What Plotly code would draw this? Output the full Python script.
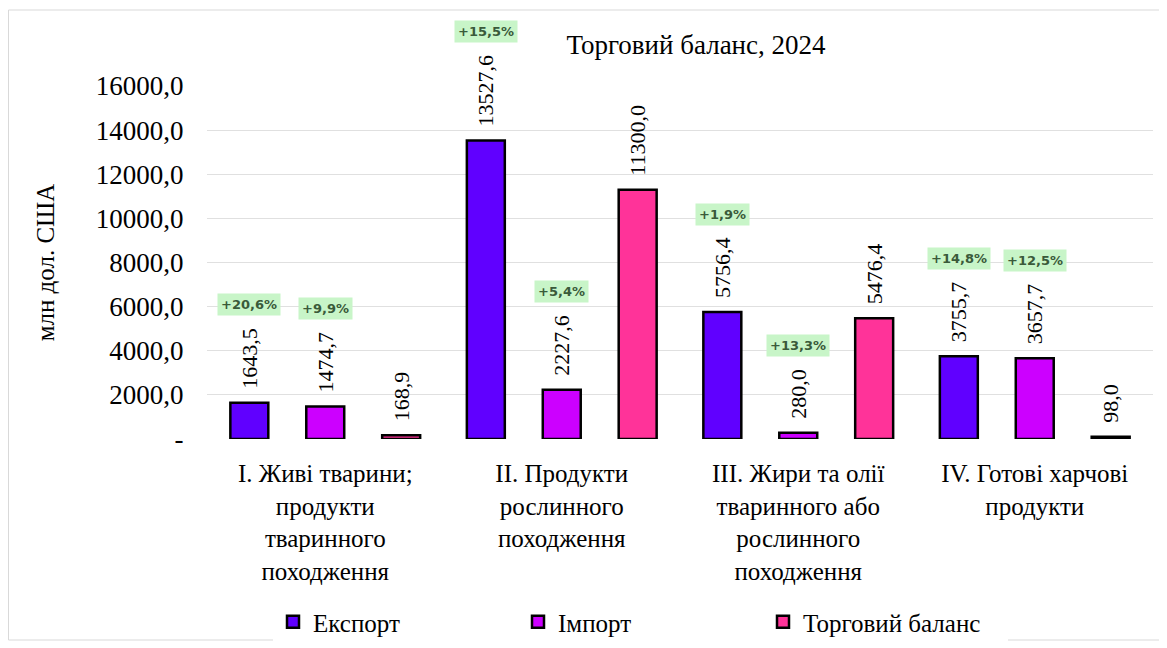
import plotly.graph_objects as go

categories = [
    "I. Живі тварини;<br>продукти<br>тваринного<br>походження",
    "II. Продукти<br>рослинного<br>походження",
    "III. Жири та олії<br>тваринного або<br>рослинного<br>походження",
    "IV. Готові харчові<br>продукти",
]
series_names = ["Експорт", "Імпорт", "Торговий баланс"]
export_vals = [1643.5, 13527.6, 5756.4, 3755.7]
import_vals = [1474.7, 2227.6, 280.0, 3657.7]
balance_vals = [168.9, 11300.0, 5476.4, 98.0]
export_growth = ["+20,6%", "+15,5%", "+1,9%", "+14,8%"]
import_growth = ["+9,9%", "+5,4%", "+13,3%", "+12,5%"]
y_ticks = [0, 2000, 4000, 6000, 8000, 10000, 12000, 14000, 16000]

colors = ["#6000FF", "#CC00FF", "#FF3399"]
SERIF = "Liberation Serif"
LABEL_FS = 22
BARGAP = 0.037

x_idx = list(range(len(categories)))
all_vals = [export_vals, import_vals, balance_vals]

fig = go.Figure()
for name, vals, col in zip(series_names, all_vals, colors):
    fig.add_trace(go.Bar(
        x=x_idx, y=vals, name=name,
        marker=dict(color=col, line=dict(color="black", width=2.5)),
        texttemplate="\u2002%{y:.1f}",
        textposition="outside", textangle=-90,
        textfont=dict(family=SERIF, size=LABEL_FS, color="black"),
        constraintext="none", cliponaxis=False,
    ))

def label_len(v):
    s = f"{v:.1f}"
    return sum(LABEL_FS * 0.5 if c.isdigit() else LABEL_FS * 0.25 for c in s)

slot = (1 - BARGAP) / 3
annotations = []
for j, (vals, growth) in enumerate([(export_vals, export_growth), (import_vals, import_growth)]):
    for i, (v, g) in enumerate(zip(vals, growth)):
        annotations.append(dict(
            x=i + (j - 1) * slot, y=v, xref="x", yref="y",
            text="<b>" + g + "</b>", showarrow=False, yanchor="bottom", xanchor="center",
            yshift=label_len(v) + 26,
            bgcolor="#C8F5C8", borderpad=3,
            font=dict(family="DejaVu Sans", size=13, color="#3A5A3A"),
        ))

# the page body adds an 8 px offset; the figure is sized so it ends at the window edge
OFF = 8
W, H = 1167 - OFF, 648 - OFF
L, R, T, B = 207 - OFF, 14, 86 - OFF, 209
pw, ph = W - L - R, H - T - B

fig.update_layout(
    template="none",
    width=W, height=H,
    margin=dict(l=L, r=R, t=T, b=B, autoexpand=False),
    paper_bgcolor="white", plot_bgcolor="white",
    barmode="group", bargap=BARGAP, bargroupgap=0.5,
    separators=",.",
    title=dict(text="Торговий баланс, 2024", x=(696 - 207) / pw, xref="paper",
               xanchor="center", y=1 - (45 - OFF) / H, yanchor="middle",
               font=dict(family=SERIF, size=27, color="black")),
    xaxis=dict(tickvals=x_idx, ticktext=categories, range=[-0.5, len(categories) - 0.5],
               tickfont=dict(family=SERIF, size=25, color="black"),
               ticks="outside", ticklen=12, tickcolor="rgba(0,0,0,0)",
               showgrid=False, zeroline=False, showline=False, automargin=False),
    yaxis=dict(range=[0, 16000], tickvals=y_ticks,
               ticktext=["-" if t == 0 else f"{t:.1f}".replace(".", ",") for t in y_ticks],
               tickfont=dict(family=SERIF, size=27, color="black"),
               ticks="outside", ticklen=17, tickcolor="rgba(0,0,0,0)",
               showgrid=True, gridcolor="#E0E0E0", gridwidth=1, zeroline=False,
               showline=False, automargin=False,
               title=dict(text="млн дол. США", standoff=34,
                          font=dict(family=SERIF, size=25, color="black"))),
    legend=dict(orientation="h", xref="container", yref="container",
                x=265 / W, xanchor="left",
                y=1 - (622 - OFF) / H, yanchor="middle", entrywidth=200,
                font=dict(family=SERIF, size=25, color="black")),
    annotations=annotations,
    shapes=[dict(type="rect", xref="paper", yref="paper",
                 x0=(0.5 - L) / pw, x1=(1160 - OFF - L) / pw,
                 y0=(431 - 632) / ph, y1=(431 - 2) / ph,
                 line=dict(color="#D9D9D9", width=1), fillcolor="rgba(0,0,0,0)", layer="below")],
)

fig.write_html("out.html")
